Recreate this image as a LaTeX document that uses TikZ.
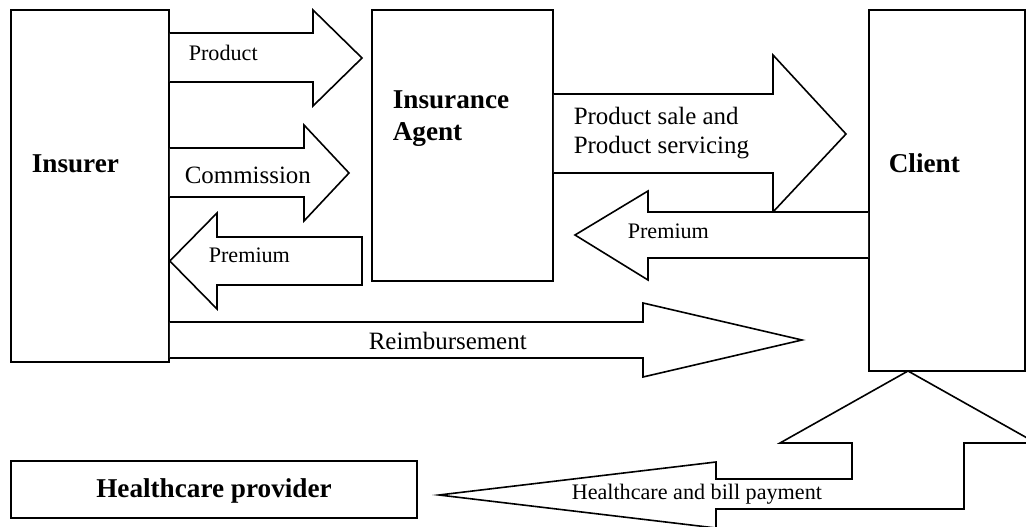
\documentclass[tikz,border=0pt]{standalone}
\usepackage{fontspec}
\setmainfont{Liberation Serif}
\usetikzlibrary{fit}
\begin{document}
\begin{tikzpicture}[x=0.75pt,y=-0.75pt,line width=1.2pt,line join=miter,
  boxstyle/.style={draw,inner sep=0pt},
  blockarrow/.style={draw,fill=white},
  bigtxt/.style={font=\fontsize{20.4}{24}\selectfont\bfseries,inner sep=0pt},
  smalltxt/.style={font=\fontsize{16.6}{20}\selectfont,inner sep=0pt},
  midtxt/.style={font=\fontsize{18.7}{21.75}\selectfont,inner sep=0pt}]
\useasboundingbox (0,0) rectangle (1026,527);
\clip (0,0) rectangle (1026,527);
\fill[white] (0,0) rectangle (1026,527);

% boxes
\coordinate (a1) at (11,10);   \coordinate (a2) at (169,362);
\coordinate (b1) at (372,10);  \coordinate (b2) at (553,281);
\coordinate (c1) at (869,10);  \coordinate (c2) at (1025,371);
\coordinate (d1) at (11,461);  \coordinate (d2) at (417,518);
\node[boxstyle,fit=(a1)(a2)] (ins) {};
\node[boxstyle,fit=(b1)(b2)] (agt) {};
\node[boxstyle,fit=(c1)(c2)] (cli) {};
\node[boxstyle,fit=(d1)(d2)] (hcp) {};

% block arrows
\draw[blockarrow] (ins.east |- {(0,33)}) -- (313,33) -- (313,10) -- (362,58) -- (313,106) -- (313,82) -- (ins.east |- {(0,82)});
\draw[blockarrow] (ins.east |- {(0,148)}) -- (304,148) -- (304,125) -- (349,173) -- (304,221) -- (304,197) -- (ins.east |- {(0,197)});
\draw[blockarrow] (362,237) -- (217,237) -- (217,213) -- (ins.east |- {(0,261)}) -- (217,309) -- (217,285) -- (362,285) -- cycle;
\draw[blockarrow] (ins.east |- {(0,322)}) -- (643,322) -- (643,303) -- (802,340) -- (643,377) -- (643,358) -- (ins.east |- {(0,358)});
\draw[blockarrow] (agt.east |- {(0,94)}) -- (773,94) -- (773,55) -- (846,134) -- (773,212) -- (773,173) -- (agt.east |- {(0,173)});
\draw[blockarrow] (cli.west |- {(0,212)}) -- (648,212) -- (648,191) -- (575,235) -- (648,280) -- (648,258) -- (cli.west |- {(0,258)});
\draw[blockarrow] (439,495) -- (716,462) -- (716,479) -- (852,479) -- (852,443) -- (780,443) -- (908,371) -- (1036,443) -- (964,443) -- (964,509) -- (716,509) -- (716,528) -- cycle;

% labels
\node[bigtxt,anchor=base west] (tins) at (31,173) {Insurer};
\node[bigtxt,anchor=north west,align=left] (tagt) at (392,90) {Insurance\\Agent};
\node[bigtxt,anchor=base west] (tcli) at (888,173) {Client};
\node[bigtxt,anchor=base] (thcp) at (214,498) {Healthcare provider};
\node[smalltxt,anchor=base west] (tprod) at (188,61) {Product};
\node[midtxt,anchor=base west] (tcom) at (184,184) {Commission};
\node[smalltxt,anchor=base west] (tprem1) at (208,263) {Premium};
\node[midtxt,anchor=base west] (treim) at (368,350) {Reimbursement};
\node[midtxt,anchor=north west,align=left] (tsale) at (573,106) {Product sale and\\Product servicing};
\node[smalltxt,anchor=base west] (tprem2) at (627,239) {Premium};
\node[smalltxt,anchor=base west] (thb) at (571,500) {Healthcare and bill payment};
\end{tikzpicture}
\end{document}
